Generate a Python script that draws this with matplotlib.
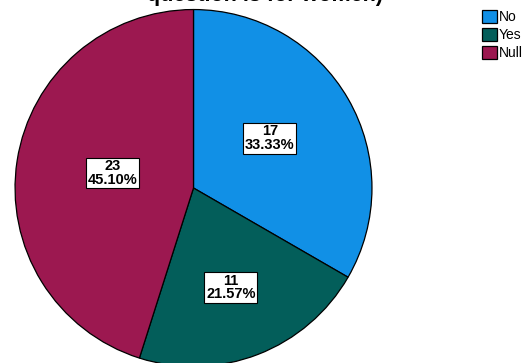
import matplotlib.pyplot as plt
from matplotlib.patches import Patch

plt.rcParams['font.family'] = ['Liberation Sans', 'DejaVu Sans']

# answer counts
labels = ["No", "Yes", "Null"]
counts = [17, 11, 23]
colors = ["#1190e6", "#035e5a", "#9c1850"]

# where each count box sits (x, y) in pie units
label_xy = [(0.427, 0.279), (0.21, -0.559), (-0.455, 0.084)]

total = sum(counts)

fig = plt.figure(figsize=(5.28, 3.63), dpi=100)
ax = fig.add_axes([14.5 / 528, -4 / 363, 358 / 528, 358 / 363])

wedges, _ = ax.pie(counts, colors=colors, startangle=90, counterclock=False,
                   radius=1, wedgeprops=dict(edgecolor="black", linewidth=0.9))
ax.set_xlim(-1.003, 1.003)
ax.set_ylim(-1.003, 1.003)
ax.set_aspect("equal")
ax.axis("off")

for (x, y), c in zip(label_xy, counts):
    ax.text(x, y, f"{c}\n{c / total * 100:.2f}%", ha="center", va="center",
            fontsize=10.5, fontweight="bold", linespacing=0.95,
            bbox=dict(boxstyle="square,pad=0.12", facecolor="white",
                      edgecolor="black", linewidth=0.8))

# title runs off the top edge
fig.text(265 / 528, 1 - 1.5 / 363, "question is for women)", ha="center",
         va="baseline", fontsize=15.5, fontweight="bold")

handles = [Patch(facecolor=col, edgecolor="black", linewidth=0.9) for col in colors]
fig.legend(handles, labels, loc="upper left", bbox_to_anchor=(482 / 528, 1 - 10 / 363),
           frameon=False, fontsize=10, handlelength=1.1, handleheight=1.1,
           handletextpad=0.1, labelspacing=0.25, borderaxespad=0, borderpad=0)

fig.savefig("out.png", dpi=100)
